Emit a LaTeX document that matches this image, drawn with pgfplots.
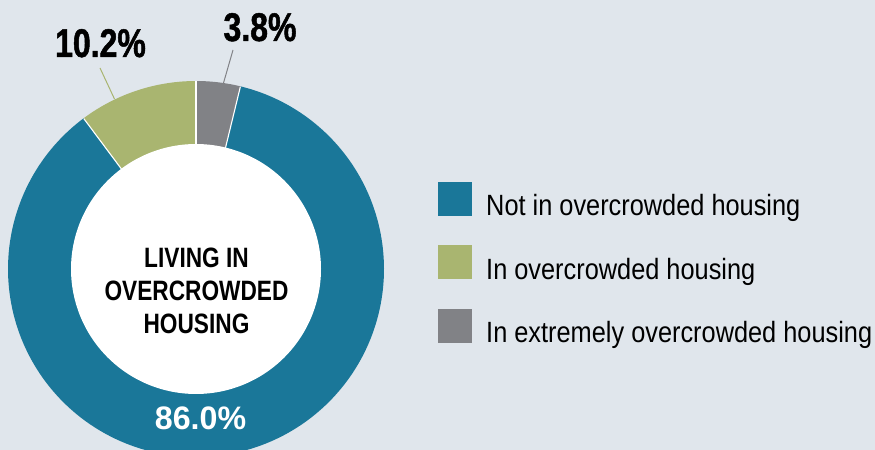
\documentclass[border=0pt]{standalone}
\usepackage{pgfplots}
\pgfplotsset{compat=1.18}
\usepackage{fontspec}
\setmainfont{Liberation Sans}
\newfontfamily\legfont[FakeStretch=0.865]{Liberation Sans}
\newfontfamily\numfont[FakeStretch=0.80,FakeBold=1.2]{Liberation Sans}
\newfontfamily\bigfont[FakeStretch=0.99]{Liberation Sans}
\newfontfamily\cenfont[FakeStretch=0.81]{Liberation Sans}
\definecolor{bg}{HTML}{E0E6EC}
\definecolor{cblue}{HTML}{1A7799}
\definecolor{cgreen}{HTML}{A9B570}
\definecolor{cgray}{HTML}{818286}
% shares (percent)
\def\vNot{86.0}
\def\vOver{10.2}
\def\vExt{3.8}
\pgfmathsetmacro\aA{90-3.6*\vExt}
\pgfmathsetmacro\aB{90}
\pgfmathsetmacro\aC{90+3.6*\vOver}
\pgfmathsetmacro\aE{\aC+3.6*\vNot}
\begin{document}
\begin{tikzpicture}
\fill[bg] (0,0) rectangle (875bp,450bp);
\begin{axis}[at={(0,0)}, anchor=south west, scale only axis,
  width=875bp, height=450bp, xmin=0, xmax=875, ymin=0, ymax=450,
  hide axis, clip=true]
% sectors
\addplot[draw=none, fill=cblue, domain=\aC:\aE, samples=200] ({196+188*cos(x)},{181+188*sin(x)}) -- (196,181) -- cycle;
\addplot[draw=none, fill=cgreen, domain=\aB:\aC, samples=40] ({196+188*cos(x)},{181+188*sin(x)}) -- (196,181) -- cycle;
\addplot[draw=none, fill=cgray, domain=\aA:\aB, samples=20] ({196+188*cos(x)},{181+188*sin(x)}) -- (196,181) -- cycle;
% separators
\addplot[white, line width=1.1bp, domain=120:187.5, samples=2] ({196+x*cos(\aA)},{181+x*sin(\aA)});
\addplot[white, line width=1.1bp, domain=120:187.5, samples=2] ({196+x*cos(\aB)},{181+x*sin(\aB)});
\addplot[white, line width=1.1bp, domain=120:187.5, samples=2] ({196+x*cos(\aC)},{181+x*sin(\aC)});
% hole
\addplot[draw=none, fill=white, domain=0:360, samples=240] ({196+125*cos(x)},{181+125*sin(x)}) -- cycle;
% leader lines
\addplot[cgreen, line width=1bp] coordinates {(100,382) (114.5,351)};
\addplot[cgray, line width=1bp] coordinates {(233,400) (223.5,367)};
% value labels
\node[anchor=base, font={\numfont\bfseries\fontsize{40bp}{41bp}\selectfont}] at (100.5,393) {10.2\%};
\node[anchor=base, font={\numfont\bfseries\fontsize{40bp}{41bp}\selectfont}] at (260,409) {3.8\%};
\node[anchor=base, text=white, font={\bigfont\bfseries\fontsize{32.5bp}{34bp}\selectfont}] at (200.5,21) {86.0\%};
% centre title
\node[anchor=base, font={\cenfont\bfseries\fontsize{28bp}{30bp}\selectfont}] at (196.5,182) {LIVING IN};
\node[anchor=base, font={\cenfont\bfseries\fontsize{28bp}{30bp}\selectfont}] at (196.5,149) {OVERCROWDED};
\node[anchor=base, font={\cenfont\bfseries\fontsize{28bp}{30bp}\selectfont}] at (196.5,116) {HOUSING};
% legend
\fill[cblue] (438,234) rectangle (472,268);
\fill[cgreen] (438,170.5) rectangle (472,204.5);
\fill[cgray] (438,107) rectangle (472,141);
\node[anchor=base west, inner sep=0pt, font={\legfont\fontsize{29.3bp}{32bp}\selectfont}] at (486,234) {Not in overcrowded housing};
\node[anchor=base west, inner sep=0pt, font={\legfont\fontsize{29.3bp}{32bp}\selectfont}] at (486,170.5) {In overcrowded housing};
\node[anchor=base west, inner sep=0pt, font={\legfont\fontsize{29.3bp}{32bp}\selectfont}] at (486,107) {In extremely overcrowded housing};
\end{axis}
\pgfresetboundingbox
\useasboundingbox (0,0) rectangle (875bp,450bp);
\end{tikzpicture}
\end{document}
